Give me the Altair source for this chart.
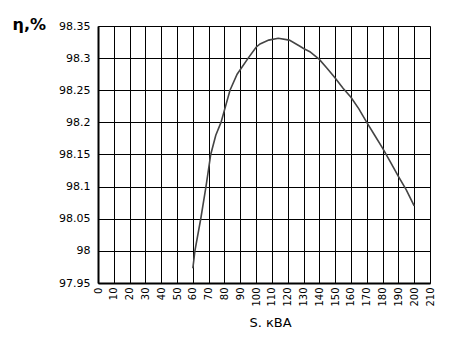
import altair as alt
import pandas as pd

s_kva = [60, 61.3, 65, 68.3, 71.3, 74.5, 77.8, 83.5, 88, 95, 100, 102.5, 108, 114,
         121, 128, 130, 134, 140, 145, 150, 155, 160, 165, 170, 175, 180, 185, 190, 195, 200]
eta = [97.973, 98.0, 98.05, 98.1, 98.15, 98.18, 98.2, 98.25, 98.275, 98.3, 98.317, 98.322,
       98.328, 98.331, 98.328, 98.318, 98.315, 98.31, 98.298, 98.284, 98.269, 98.253,
       98.239, 98.221, 98.2, 98.18, 98.16, 98.138, 98.116, 98.095, 98.07]
x_ticks = list(range(0, 211, 10))
y_ticks = [97.95, 98.0, 98.05, 98.1, 98.15, 98.2, 98.25, 98.3, 98.35]

df = pd.DataFrame({"S": s_kva, "eta": eta})

chart = alt.Chart(df).mark_line(color="#444444", strokeWidth=1.6).encode(
    x=alt.X("S:Q", scale=alt.Scale(domain=[0, 210], nice=False, zero=False),
            axis=alt.Axis(values=x_ticks, title="S. кВА", labelAngle=-90, labelFontSize=10,
                          labelPadding=4, ticks=False, grid=True, gridColor="black",
                          gridWidth=1, gridOpacity=1, domainColor="black", domainWidth=2,
                          labelColor="black", labelFont="DejaVu Sans", titleFont="DejaVu Sans",
                          titleFontSize=13, titleFontWeight="normal", titleColor="black",
                          titleX=172, titleY=39, titleAlign="center", titleBaseline="middle",
                          labelFlush=False, labelOverlap=False)),
    y=alt.Y("eta:Q", scale=alt.Scale(domain=[97.95, 98.35], nice=False, zero=False),
            axis=alt.Axis(values=y_ticks, format="~g", title="η,%", labelFontSize=11,
                          labelPadding=8, ticks=False, grid=True, gridColor="black",
                          gridWidth=1, gridOpacity=1, domainColor="black", domainWidth=2,
                          labelColor="black", labelFont="DejaVu Sans", titleFont="DejaVu Sans",
                          titleFontSize=16, titleFontWeight="bold", titleColor="black",
                          titleAngle=0, titleX=-86, titleY=-2, titleAlign="left",
                          titleBaseline="middle", labelFlush=False, labelOverlap=False)),
).properties(
    width=332, height=257,
    autosize=alt.AutoSizeParams(type="none"),
    padding={"left": 98, "top": 26, "right": 28, "bottom": 69},
).configure_view(stroke="black", strokeWidth=2).configure(background="white")

chart.save("out.html", embed_options={"renderer": "svg", "actions": False})
